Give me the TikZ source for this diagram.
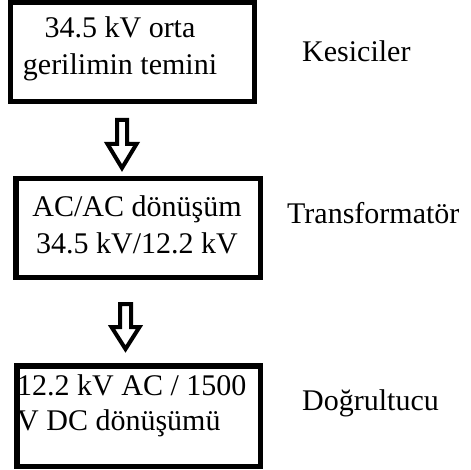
\documentclass[tikz,border=0pt]{standalone}
\usepackage{fontspec}
\setmainfont{Liberation Serif}
\begin{document}
\begin{tikzpicture}[x=1pt,y=-1pt,
  box/.style={draw, line width=5.5pt, inner sep=0pt},
  txt/.style={font=\fontsize{30}{37}\selectfont, inner sep=0pt},
  blockarrow/.style={draw, line width=4pt, line join=miter}]
\useasboundingbox (0,0) rectangle (470,470);
% boxes
\node[box, minimum width=244pt, minimum height=99pt] (b1) at (132.5,52) {};
\node[box, minimum width=244.5pt, minimum height=98.5pt] (b2) at (138,228) {};
\node[box, minimum width=243.5pt, minimum height=100.5pt] (b3) at (138.5,416) {};
% box texts (base anchor = baseline of the last line)
\node[txt, align=center, anchor=base] (t1) at (120,75) {34.5 kV orta\\gerilimin temini};
\node[txt, align=center, anchor=base] (t2) at (137,253) {AC/AC dönüşüm\\34.5 kV/12.2 kV};
\node[txt, align=left, anchor=base west] (t3) at (17,430) {12.2 kV AC / 1500\\[-2pt]V DC dönüşümü};
% side labels
\node[txt, anchor=base west] (l1) at (302,62) {Kesiciler};
\node[txt, anchor=base west] (l2) at (287,223) {Transformatör};
\node[txt, anchor=base west] (l3) at (302,410) {Doğrultucu};
% block arrows
\draw[blockarrow] (117,120) -- (127,120) -- (127,144) -- (136.5,144) -- (122,168)
  -- (107.5,144) -- (117,144) -- cycle;
\draw[blockarrow] (120,304) -- (131,304) -- (131,327) -- (139.5,327) -- (125.5,349)
  -- (111.5,327) -- (120,327) -- cycle;
\end{tikzpicture}
\end{document}
